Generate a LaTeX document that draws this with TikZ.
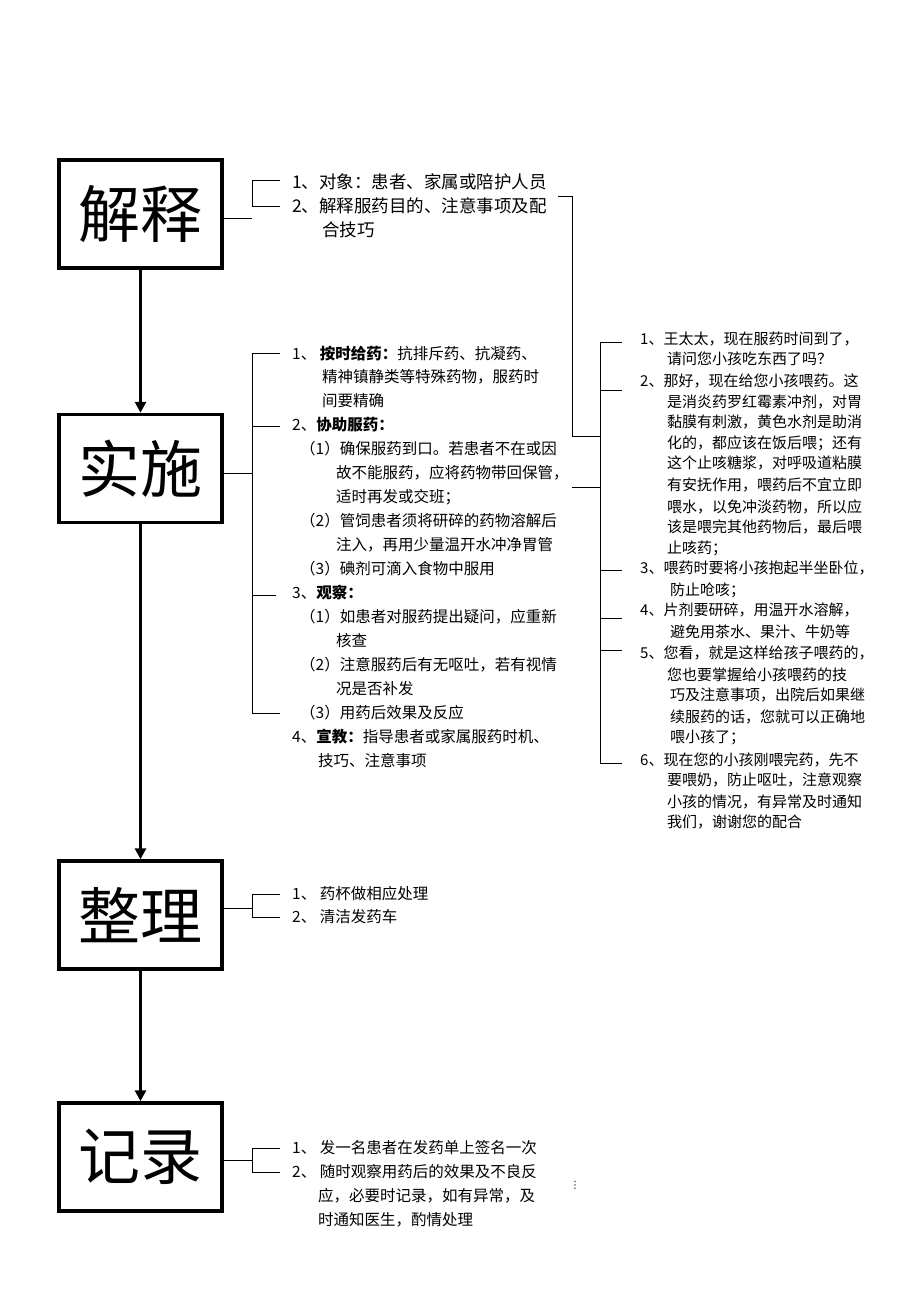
\documentclass[tikz,border=0pt]{standalone}
\usepackage{fontspec}
\setmainfont{Noto Sans CJK SC}
\newfontfamily\dejavu{DejaVu Sans}
\usetikzlibrary{arrows.meta}
\newcounter{ln}
\newcommand\tl[3]{\stepcounter{ln}\node[txt] (t\theln) at (#1,#2+6) {#3};}
\newcommand\bl[3]{\stepcounter{ln}\node[txt,font=\fontsize{17.5}{18}\selectfont] (t\theln) at (#1,#2+6.5) {#3};}
\newcommand\rl[3]{\stepcounter{ln}\node[rtxt] (t\theln) at (#1,#2+5.5) {#3};}
\begin{document}
\begin{tikzpicture}[x=1pt,y=-1pt,
  box/.style={draw,line width=3.5pt,minimum width=163pt,minimum height=108pt,inner sep=0pt,font=\fontsize{62}{62}\selectfont},
  txt/.style={anchor=base west,inner sep=0pt,font=\fontsize{15.5}{16}\selectfont},
  rtxt/.style={anchor=base west,inner sep=0pt,font=\fontsize{15}{16}\selectfont},
  ln/.style={line width=1pt},
  arr/.style={line width=3pt,-{Triangle[length=11pt,width=11pt]}}]
\useasboundingbox (0,0) rectangle (920,1302);
\node[box] (b1) at (140.5,214) {解释};
\node[box] (b2) at (140.5,468.5) {实施};
\node[box] (b3) at (140.5,915) {整理};
\node[box] (b4) at (140.5,1157) {记录};
\draw[arr] (b1.south) -- (b2.north);
\draw[arr] (b2.south) -- (b3.north);
\draw[arr] (b3.south) -- (b4.north);
% bracket 1
\draw[ln] (b1.east|-0,218) -- (252,218);
\draw[ln] (280,180) -- (252,180) -- (252,206) -- (280,206);
% bracket 2
\draw[ln] (b2.east|-0,473) -- (252,473);
\draw[ln] (280,353) -- (252,353) -- (252,713) -- (280,713);
\draw[ln] (252,426) -- (280,426);
\draw[ln] (252,595) -- (276,595);
% bracket 3
\draw[ln] (b3.east|-0,908) -- (252,908);
\draw[ln] (280,894) -- (252,894) -- (252,917) -- (280,917);
% bracket 4
\draw[ln] (b4.east|-0,1160) -- (252,1160);
\draw[ln] (280,1148) -- (252,1148) -- (252,1172) -- (280,1172);
% right bracket
\coordinate (r0) at (558,196);
\draw[ln] (r0) -- (572,196) -- (572,436) -- (600,436);
\draw[ln] (572,487) -- (600,487);
\draw[ln] (622,342) -- (600,342) -- (600,763) -- (622,763);
\foreach \y in {390,570,618,650} \draw[ln] (600,\y) -- (622,\y);
% texts block 1
\bl{292}{182}{1、对象：患者、家属或陪护人员}
\bl{292}{206}{2、解释服药目的、注意事项及配}
\bl{322}{230}{合技巧}
% block 2
\tl{292}{353}{1、 \textbf{按时给药：}抗排斥药、抗凝药、}
\tl{322}{376}{精神镇静类等特殊药物，服药时}
\tl{322}{400}{间要精确}
\tl{292}{424}{2、\textbf{协助服药：}}
\tl{300}{448}{（1）确保服药到口。若患者不在或因}
\tl{336}{472}{故不能服药，应将药物带回保管，}
\tl{336}{496}{适时再发或交班；}
\tl{300}{520}{（2）管饲患者须将研碎的药物溶解后}
\tl{336}{544}{注入，再用少量温开水冲净胃管}
\tl{300}{568}{（3）碘剂可滴入食物中服用}
\tl{292}{592}{3、\textbf{观察：}}
\tl{300}{616}{（1）如患者对服药提出疑问，应重新}
\tl{336}{640}{核查}
\tl{300}{664}{（2）注意服药后有无呕吐，若有视情}
\tl{336}{688}{况是否补发}
\tl{300}{712}{（3）用药后效果及反应}
\tl{292}{736}{4、\textbf{宣教：}指导患者或家属服药时机、}
\tl{318}{760}{技巧、注意事项}
% right text
\rl{640}{339}{1、王太太，现在服药时间到了，}
\rl{667}{359}{请问您小孩吃东西了吗？}
\rl{640}{381}{2、那好，现在给您小孩喂药。这}
\rl{667}{402}{是消炎药罗红霉素冲剂，对胃}
\rl{667}{422}{黏膜有刺激，黄色水剂是助消}
\rl{667}{443}{化的，都应该在饭后喂；还有}
\rl{667}{463}{这个止咳糖浆，对呼吸道粘膜}
\rl{667}{485}{有安抚作用，喂药后不宜立即}
\rl{667}{507}{喂水，以免冲淡药物，所以应}
\rl{667}{527}{该是喂完其他药物后，最后喂}
\rl{667}{548}{止咳药；}
\rl{640}{568}{3、喂药时要将小孩抱起半坐卧位，}
\rl{670}{590}{防止呛咳；}
\rl{640}{610}{4、片剂要研碎，用温开水溶解，}
\rl{670}{632}{避免用茶水、果汁、牛奶等}
\rl{640}{653}{5、您看，就是这样给孩子喂药的，}
\rl{667}{675}{您也要掌握给小孩喂药的技}
\rl{670}{695}{巧及注意事项，出院后如果继}
\rl{670}{717}{续服药的话，您就可以正确地}
\rl{670}{737}{喂小孩了；}
\rl{640}{760}{6、现在您的小孩刚喂完药，先不}
\rl{667}{780}{要喂奶，防止呕吐，注意观察}
\rl{667}{802}{小孩的情况，有异常及时通知}
\rl{667}{822}{我们，谢谢您的配合}
% block 3
\tl{292}{893}{1、 药杯做相应处理}
\tl{292}{916}{2、 清洁发药车}
% block 4
\tl{292}{1147}{1、 发一名患者在发药单上签名一次}
\tl{292}{1171}{2、 随时观察用药后的效果及不良反}
\tl{318}{1195}{应，必要时记录，如有异常，及}
\tl{318}{1219}{时通知医生，酌情处理}
\node[inner sep=0pt,font=\dejavu\fontsize{10}{10}\selectfont] (dots) at (575,1185) {⋮};
\end{tikzpicture}
\end{document}
